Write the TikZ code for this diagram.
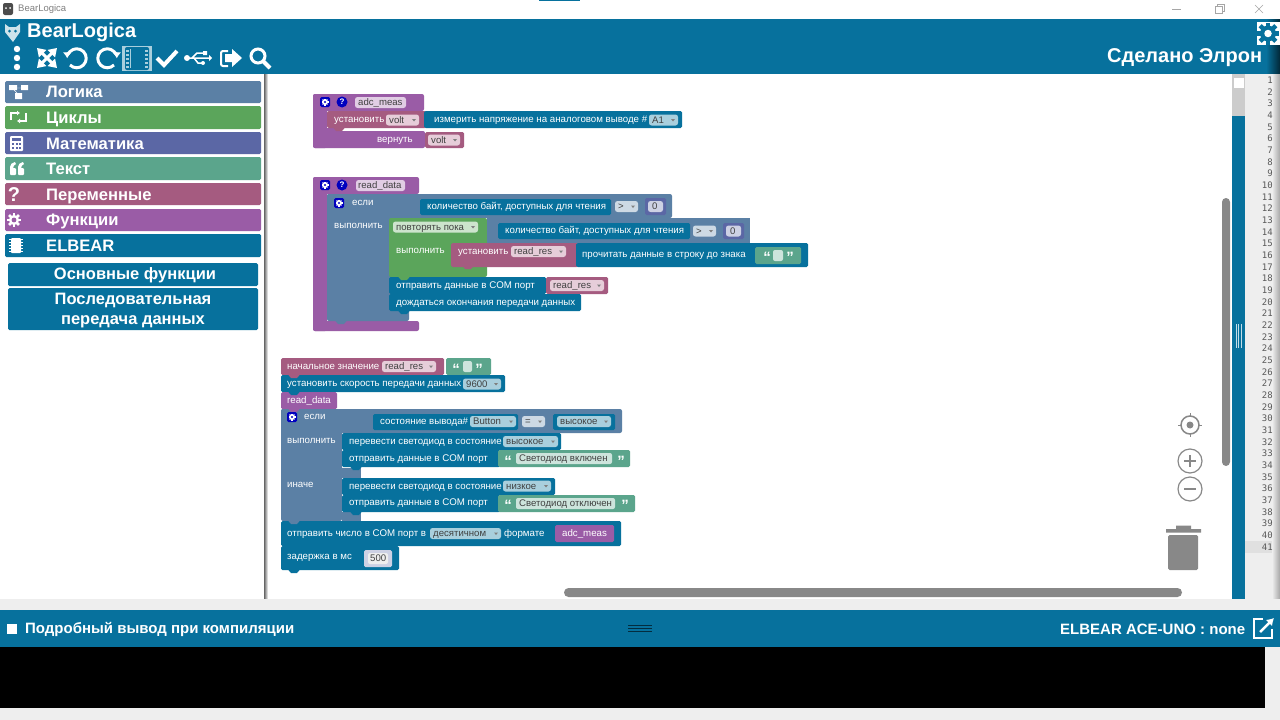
\documentclass[tikz,border=0pt]{standalone}
\usepackage{fontspec}
\usepackage{xcolor}
\usepackage{tikz}
\usetikzlibrary{arrows.meta}
\setmainfont{Liberation Sans}
\newfontfamily\numfont{DejaVu Sans Mono}
\definecolor{elbear}{HTML}{07719D}
\definecolor{logik}{HTML}{5B80A5}
\definecolor{cikl}{HTML}{5BA55B}
\definecolor{matem}{HTML}{5B67A5}
\definecolor{tekst}{HTML}{5BA58C}
\definecolor{perem}{HTML}{A55B80}
\definecolor{funk}{HTML}{9A5CA6}
\definecolor{fblue}{HTML}{A9CFDD}
\definecolor{fpink}{HTML}{E6CDD9}
\definecolor{fpurp}{HTML}{E1CDE4}
\definecolor{fgreen}{HTML}{CDE4CD}
\definecolor{fteal}{HTML}{CDE4DC}
\definecolor{flogic}{HTML}{CDD9E4}
\definecolor{fmath}{HTML}{CDD1E4}
\definecolor{ikon}{HTML}{888888}
\definecolor{pale}{HTML}{EEEEEE}
\newcommand{\blk}[5]{\fill[#1,rounded corners=1.5pt] (#2,#3) rectangle (#4,#5);}
\newcommand{\nub}[3]{\fill[#1] (#2+4,#3-.5) -- (#2+7,#3+3) -- (#2+13,#3+3) -- (#2+16,#3-.5) -- cycle;}
\newcommand{\fld}[6]{\fill[#5,rounded corners=2.5pt] (#2,#4-5.5) rectangle (#3,#4+5.5);
  \node[fldtxt] (#1) at (#2+3,#4) {#6};
  \fill[gray] (#3-7,#4-1) -- (#3-3,#4-1) -- (#3-5,#4+1.5) -- cycle;}
\newcommand{\gearic}[5]{\fill[#4] (#1,#2) circle (#3*.72);
  \foreach \a in {0,45,...,315} {\fill[#4,rotate around={\a:(#1,#2)}] (#1-#3*.2,#2) rectangle (#1+#3*.2,#2-#3);}
  \fill[#5] (#1,#2) circle (#3*.34);}
\newcommand{\gearbox}[2]{\fill[blue!75!black,rounded corners=1.5pt] (#1-5,#2-5) rectangle (#1+5,#2+5);
  \gearic{#1}{#2}{3.5}{white}{blue!75!black}}
\begin{document}
\begin{tikzpicture}[x=1pt, y=-1pt,
  lbl/.style={anchor=west, inner sep=0pt, text height=7pt, text depth=2pt, yshift=-.8pt, text=white, font=\fontsize{9.7}{12}\selectfont},
  fldtxt/.style={anchor=west, inner sep=0pt, text height=7pt, text depth=2pt, yshift=-.5pt, text=black!75, font=\fontsize{9.6}{12}\selectfont},
  menu/.style={anchor=west, inner sep=0pt, text height=12pt, text depth=3pt, yshift=-1pt, text=white, font=\fontsize{16.6}{18}\selectfont\bfseries},
  subm/.style={inner sep=0pt, text=white, align=center, font=\fontsize{16.5}{20}\selectfont\bfseries},
  head/.style={anchor=west, inner sep=0pt, text=white, font=\fontsize{20}{22}\selectfont\bfseries},
  foot/.style={anchor=west, inner sep=0pt, text=white, font=\fontsize{15}{17}\selectfont\bfseries},
  tool/.style={white, line width=3pt},
  quot/.style={inner sep=0pt, text=white, font=\fontsize{15}{15}\selectfont\bfseries}]
\useasboundingbox (0,0) rectangle (1280,720);
\fill[white] (0,0) rectangle (1280,720);

% title bar
\fill[black!70,rounded corners=2pt] (3,3) rectangle (13,15);
\fill[white] (6,8) circle (1) (10,8) circle (1);
\node[anchor=west, inner sep=0pt, text=black!50, font=\fontsize{9.5}{11}\selectfont] (wintitle) at (18,9) {BearLogica};
\fill[elbear] (539,0) rectangle (580,1);
\draw[gray!70] (1172,9) -- (1181,9);
\draw[gray!70] (1215,6) rectangle (1222,13) (1217,6) -- (1217,4) -- (1224,4) -- (1224,11) -- (1222,11);
\draw[gray!70] (1255,5) -- (1263,13) (1263,5) -- (1255,13);

% header
\fill[elbear] (0,19) rectangle (1280,74);
\shade[left color=elbear, right color=black!65!elbear] (1266,19) rectangle (1280,74);
\fill[white!80!elbear] (5,24) -- (9,27) -- (16,27) -- (20,24) -- (20,32) -- (13,42) -- (5,32) -- cycle;
\fill[elbear] (9.5,31) circle (1.5) (15.5,31) circle (1.5);
\node[head] (apptitle) at (27,32) {BearLogica};
\node[head] (madeby) at (1107,58) {Сделано Элрон};
\fill[white] (1257,22) rectangle (1280,45);
\gearic{1268}{33.5}{11}{elbear}{white}

% toolbar
\foreach \y in {49,58,67} {\fill[white] (17,\y) circle (3.2);}
\draw[tool,{Triangle[length=8pt,width=10pt]}-{Triangle[length=8pt,width=10pt]}] (37,48) -- (57,68);
\draw[tool,{Triangle[length=8pt,width=10pt]}-{Triangle[length=8pt,width=10pt]}] (57,48) -- (37,68);
\draw[tool,-{Latex[length=6pt,width=9pt]}] (70,65) arc[start angle=135, end angle=-180, radius=9.5];
\draw[tool,-{Latex[length=6pt,width=9pt]}] (114,65) arc[start angle=45, end angle=360, radius=9.5];
\fill[fblue] (122,46) rectangle (152,71);
\fill[elbear,rounded corners=2pt] (125,47) rectangle (149,70);
\fill[fblue] (130,49) rectangle (144,68);
\fill[elbear] (130.5,48) rectangle (143.5,69);
\foreach \y in {50,54,...,68} {\fill[fblue] (126,\y) rectangle (129,\y+2); \fill[fblue] (145,\y) rectangle (148,\y+2);}
\draw[white,line width=4pt] (157,58) -- (164,65) -- (177,51);
\draw[white,line width=1.5pt] (186,58) -- (209,58) (192,58) -- (197,53) -- (203,53) (194,58) -- (198,63) -- (203,63);
\fill[white] (187,58) circle (3) (203,51) rectangle (207,55) (203,63) circle (2) (209,55) -- (212,58) -- (209,61) -- cycle;
\draw[white,line width=2pt,rounded corners=2pt] (228,51) -- (221,51) -- (221,66) -- (228,66);
\fill[white] (225,54) -- (232,54) -- (232,49) -- (242,58) -- (232,67) -- (232,62) -- (225,62) -- cycle;
\draw[white,line width=3pt] (258,56) circle (7);
\draw[white,line width=4pt] (263,61) -- (270,68);

% left menu
\shade[left color=black!60, right color=white] (264,74) rectangle (268,599);
\blk{logik}{5}{81}{261}{103}
\blk{cikl}{5}{106}{261}{129}
\blk{matem}{5}{132}{261}{154}
\blk{tekst}{5}{157}{261}{180}
\blk{perem}{5}{183}{261}{205}
\blk{funk}{5}{209}{261}{231}
\blk{elbear}{5}{234}{261}{257}
\blk{elbear}{8}{263}{258}{286}
\blk{elbear}{8}{288}{258}{330}
\node[menu] (mlogic) at (46,92) {Логика};
\node[menu] (mloops) at (46,118) {Циклы};
\node[menu] (mmath) at (46,143.5) {Математика};
\node[menu] (mtext) at (46,169) {Текст};
\node[menu] (mvars) at (46,194.5) {Переменные};
\node[menu] (mfunc) at (46,220) {Функции};
\node[menu] (melbear) at (46,245.5) {ELBEAR};
\node[subm] (mbasic) at (135,275) {Основные функции};
\node[subm] (mserial) at (133,311) {Последовательная\\передача данных};
\fill[white] (9,85) rectangle (17,90) (21,85) rectangle (28,90) (15,93) rectangle (22,99);
\draw[white] (16,88) -- (22,88) (14,90) -- (18,94);
\draw[white,line width=1.5pt,-{Latex[length=3pt,width=5pt]}] (11,120) -- (11,113) -- (20,113);
\draw[white,line width=1.5pt,-{Latex[length=3pt,width=5pt]}] (26,113) -- (26,121) -- (17,121);
\fill[white,rounded corners=1pt] (10,136) rectangle (23,151);
\fill[matem] (12,138) rectangle (21,141);
\foreach \x in {12,16,19} {\foreach \y in {143,147} {\fill[matem] (\x,\y) rectangle (\x+2,\y+2);}}
\foreach \x in {10,18} {\fill[white,rounded corners=1pt] (\x,168) rectangle (\x+6,175);
  \fill[white] (\x,169) -- (\x,167) .. controls (\x,164) and (\x+2,163) .. (\x+5,162) -- (\x+6,164) .. controls (\x+4,165) and (\x+3,166) .. (\x+3,169) -- cycle;}
\node[inner sep=0pt, text=white, font=\fontsize{20}{20}\selectfont\bfseries] (mquest) at (14,194.5) {?};
\gearic{14}{220}{7}{white}{funk}
\fill[white,rounded corners=1pt] (11,238) rectangle (21,253);
\foreach \y in {239,242,...,251} {\fill[white] (9,\y) rectangle (23,\y+1);}

% first function
\fill[funk,rounded corners=2pt] (313,94) rectangle (424,111);
\fill[funk,rounded corners=2pt] (313,94) rectangle (327,148);
\fill[funk,rounded corners=2pt] (313,131) rectangle (425,148);
\fill[funk] (327,128) rectangle (340,131);
\gearbox{325}{102}
\fill[blue!75!black] (342,102) circle (5.5);
\node[inner sep=0pt, text=white, font=\fontsize{8}{8}\selectfont\bfseries] (qadc) at (342,102) {?};
\fill[fpurp,rounded corners=2.5pt] (355,97) rectangle (406,108);
\node[fldtxt] (adcname) at (358,102.5) {adc\_meas};
\blk{perem}{327}{111}{426}{128}
\nub{perem}{329}{128}
\blk{elbear}{424}{111}{682}{128}
\node[lbl] (setvolt) at (334,119.5) {установить};
\fld{voltset}{386}{419}{120}{fpink}{volt}
\node[lbl] (analog) at (434,119.5) {измерить напряжение на аналоговом выводе \#};
\fld{pina}{649}{678}{120}{fblue}{A1}
\node[lbl] (ret) at (377,139) {вернуть};
\blk{perem}{425}{132}{464}{148}
\fld{voltret}{428}{460}{140}{fpink}{volt}

% second function
\fill[funk,rounded corners=2pt] (313,177) rectangle (419,194);
\fill[funk,rounded corners=2pt] (313,177) rectangle (327,331);
\fill[funk,rounded corners=2pt] (313,321) rectangle (419,331);
\gearbox{325}{185}
\fill[blue!75!black] (342,185) circle (5.5);
\node[inner sep=0pt, text=white, font=\fontsize{8}{8}\selectfont\bfseries] (qread) at (342,185) {?};
\fill[fpurp,rounded corners=2.5pt] (356,180) rectangle (405,191);
\node[fldtxt] (readname) at (358,185.5) {read\_data};
\fill[logik,rounded corners=2pt] (327,194) rectangle (409,321);
\fill[logik,rounded corners=2pt] (327,194) rectangle (672,218);
\nub{logik}{331}{321}
\gearbox{339}{203}
\node[lbl] (if1) at (352,202.5) {если};
\node[lbl] (do1) at (334,225.5) {выполнить};
\blk{elbear}{420}{199}{611}{215}
\node[lbl] (avail1) at (427,206.5) {количество байт, доступных для чтения};
\fld{gt1}{615}{638}{206.5}{flogic}{>}
\blk{matem}{645}{198}{666}{215}
\fill[fmath,rounded corners=2.5pt] (648,201) rectangle (663,212);
\node[fldtxt] (zero1) at (652,206.5) {0};
\fill[cikl,rounded corners=2pt] (389,218) rectangle (487,277);
\fill[logik] (487,218) rectangle (750,243);
\fld{whileop}{393}{478}{227}{fgreen}{повторять пока}
\node[lbl] (do2) at (396,250.5) {выполнить};
\blk{elbear}{498}{223}{690}{239}
\node[lbl] (avail2) at (505,230.5) {количество байт, доступных для чтения};
\fld{gt2}{693}{716}{231}{flogic}{>}
\blk{matem}{723}{223}{744}{239}
\fill[fmath,rounded corners=2.5pt] (726,225.5) rectangle (741,236.5);
\node[fldtxt] (zero2) at (730,231) {0};
\blk{perem}{451}{243}{578}{267}
\blk{elbear}{576}{243}{808}{267}
\nub{perem}{458}{266}
\node[lbl] (setres) at (458,251) {установить};
\fld{resset}{511}{566}{251.5}{fpink}{read\_res}
\node[lbl] (readstr) at (582,254.5) {прочитать данные в строку до знака};
\blk{tekst}{755}{247}{801}{264}
\node[quot] (q1l) at (767,257.5) {“};
\fill[fteal,rounded corners=2pt] (773,250) rectangle (783,261);
\node[quot] (q1r) at (790,257.5) {”};
\blk{elbear}{389}{277}{546}{294}
\nub{cikl}{394}{277}
\node[lbl] (send1) at (396,285) {отправить данные в COM порт};
\blk{perem}{546}{277}{608}{294}
\fld{ressend}{550}{604}{285.5}{fpink}{read\_res}
\blk{elbear}{389}{294}{581}{311}
\nub{elbear}{394}{294}
\nub{elbear}{394}{311}
\node[lbl] (finish) at (396,302.5) {дождаться окончания передачи данных};

% main program
\blk{perem}{281}{358}{444}{375}
\blk{tekst}{446}{358}{491}{375}
\node[lbl] (initval) at (287,366) {начальное значение};
\fld{resinit}{382}{436}{366.5}{fpink}{read\_res}
\node[quot] (q2l) at (456,369) {“};
\fill[fteal,rounded corners=2pt] (463,361) rectangle (472,372);
\node[quot] (q2r) at (479,369) {”};
\blk{elbear}{281}{375}{505}{392}
\nub{perem}{284}{375}
\node[lbl] (baud) at (287,383) {установить скорость передачи данных};
\fld{baudval}{463}{501}{384}{fblue}{9600}
\blk{funk}{281}{392}{337}{409}
\nub{elbear}{284}{392}
\node[lbl] (callread) at (287,400) {read\_data};
\fill[logik,rounded corners=2pt] (281,409) rectangle (342,521);
\fill[logik,rounded corners=2pt] (281,409) rectangle (622,433);
\nub{funk}{284}{409}
\fill[logik] (342,468) rectangle (361,478);
\fill[logik] (342,512) rectangle (361,521);
\gearbox{292}{417}
\node[lbl] (if2) at (304,416.5) {если};
\blk{elbear}{373}{414}{518}{430}
\node[lbl] (pinstate) at (380,421.5) {состояние вывода\#};
\fld{btn}{470}{516}{421.5}{fblue}{Button}
\fld{eqop}{522}{545}{421.5}{flogic}{=}
\blk{elbear}{553}{414}{615}{430}
\fld{high1}{557}{611}{421.5}{fblue}{высокое}
\node[lbl] (do3) at (287,440.5) {выполнить};
\blk{elbear}{342}{433}{561}{450}
\node[lbl] (led1) at (349,441.5) {перевести светодиод в состояние};
\fld{high2}{503}{558}{441.5}{fblue}{высокое}
\blk{elbear}{342}{450}{500}{467}
\nub{elbear}{346}{450}
\nub{elbear}{346}{467}
\node[lbl] (send2) at (349,458) {отправить данные в COM порт};
\blk{tekst}{498}{450}{630}{467}
\node[quot] (q3l) at (508,461) {“};
\fill[fteal,rounded corners=2pt] (516,453) rectangle (612,464);
\node[fldtxt] (ledon) at (519,458.5) {Светодиод включен};
\node[quot] (q3r) at (621,461) {”};
\node[lbl] (else1) at (287,484.5) {иначе};
\blk{elbear}{342}{478}{555}{495}
\node[lbl] (led2) at (349,486) {перевести светодиод в состояние};
\fld{low1}{503}{551}{486}{fblue}{низкое}
\blk{elbear}{342}{495}{500}{512}
\nub{elbear}{346}{495}
\nub{elbear}{346}{512}
\node[lbl] (send3) at (349,502.5) {отправить данные в COM порт};
\blk{tekst}{498}{495}{635}{512}
\node[quot] (q4l) at (508,505.5) {“};
\fill[fteal,rounded corners=2pt] (516,498) rectangle (615,509);
\node[fldtxt] (ledoff) at (519,503.5) {Светодиод отключен};
\node[quot] (q4r) at (625,505.5) {”};
\blk{elbear}{281}{521}{621}{546}
\nub{logik}{284}{521}
\node[lbl] (sendnum) at (287,533) {отправить число в COM порт в};
\fld{decfmt}{430}{501}{533.5}{fblue}{десятичном}
\node[lbl] (fmt) at (504,533) {формате};
\blk{funk}{555}{525}{614}{542}
\node[lbl] (adccall) at (562,533.5) {adc\_meas};
\blk{elbear}{281}{546}{399}{570}
\nub{elbear}{284}{546}
\nub{elbear}{284}{570}
\node[lbl] (delay) at (287,556.5) {задержка в мс};
\blk{fmath}{364}{550}{392}{567}
\fill[pale,rounded corners=2pt] (368,553) rectangle (388,564);
\node[fldtxt] (delayval) at (370,558.5) {500};

% workspace controls
\draw[ikon,line width=1.5pt] (1190,425) circle (9);
\fill[ikon] (1190,425) circle (3.5);
\draw[ikon,line width=1pt] (1190,413) -- (1190,416) (1190,434) -- (1190,437) (1178,425) -- (1181,425) (1199,425) -- (1202,425);
\draw[ikon,line width=1.2pt] (1190,461) circle (12) (1190,489) circle (12);
\draw[ikon,line width=1.2pt] (1184,461) -- (1196,461) (1190,455) -- (1190,467) (1184,489) -- (1196,489);
\fill[ikon] (1166,529) rectangle (1201,532.5) (1176,525.5) rectangle (1191,529);
\fill[ikon,rounded corners=1.5pt] (1168,535) rectangle (1198,570);
\fill[ikon,rounded corners=4pt] (1222,198) rectangle (1230,466);
\fill[ikon,rounded corners=4.5pt] (564,588) rectangle (1182,597);

% right side
\fill[elbear] (1232,74) rectangle (1245,599);
\fill[black!20] (1232,74) rectangle (1245,116);
\fill[white] (1234,78) rectangle (1244,88);
\draw[white!75!elbear] (1236,324) -- (1236,348) (1238.5,324) -- (1238.5,348) (1241,324) -- (1241,348);
\fill[pale] (1245,74) rectangle (1280,599);
\fill[black!12] (1245,541) rectangle (1272,553);
\shade[left color=pale, right color=black!35] (1272,74) rectangle (1280,599);
\foreach \n in {1,...,41} {\node[anchor=east, inner sep=0pt, text=black!65, font=\numfont\fontsize{9}{10}\selectfont] (line\n) at (1273,{80.2+(\n-1)*11.67}) {\n};}

% bottom
\fill[pale] (0,599) rectangle (1280,610);
\fill[elbear] (0,610) rectangle (1280,647);
\fill[black] (0,647) rectangle (1265,708);
\fill[pale] (1265,647) rectangle (1280,708);
\fill[pale] (0,708) rectangle (1280,720);
\fill[white] (7,624) rectangle (17,634);
\node[foot] (verbose) at (25,629.5) {Подробный вывод при компиляции};
\draw[black!60!elbear,line width=1pt] (628,625) -- (652,625) (628,628) -- (652,628) (628,631) -- (652,631);
\node[foot] (board) at (1060,629) {ELBEAR ACE-UNO : none};
\draw[white,line width=2.5pt] (1263,619) -- (1254,619) -- (1254,638) -- (1272,638) -- (1272,629);
\draw[white,line width=2.5pt,-{Latex[length=7pt,width=9pt]}] (1260,632) -- (1274,618);
\end{tikzpicture}
\end{document}
